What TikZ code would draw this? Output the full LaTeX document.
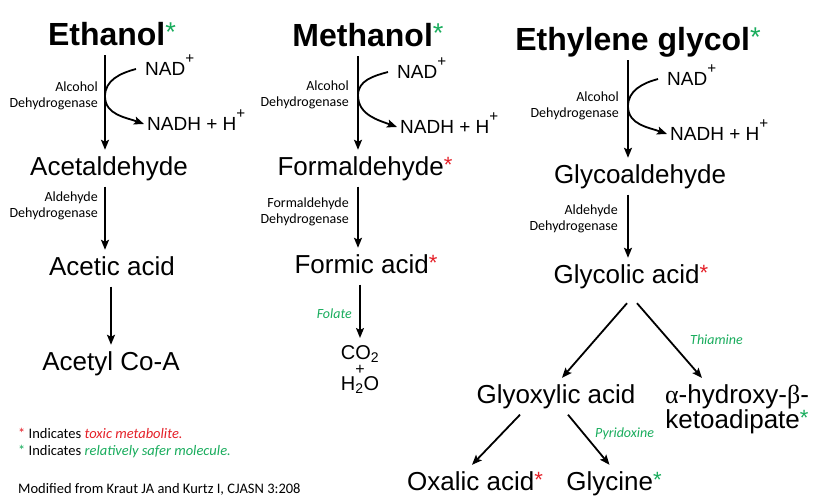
\documentclass[tikz,border=0pt]{standalone}
\usepackage{fontspec}
\setmainfont{Liberation Sans}
\newfontfamily\calfont{Carlito}
\newfontfamily\greekfont{Liberation Serif}
\usetikzlibrary{arrows.meta}
\definecolor{toxred}{RGB}{228,32,40}
\definecolor{safegreen}{RGB}{24,172,92}
\newcommand\starup[1]{\textcolor{#1}{\raisebox{0.1em}{\scalebox{0.85}{*}}}}
\newcommand\redstar{\starup{toxred}}
\newcommand\greenstar{\starup{safegreen}}
\newcommand\plusup{\raisebox{0.58em}{\scalebox{0.8}{+}}}
\tikzset{
  title/.style={font=\fontsize{32}{36}\selectfont\bfseries, text height=24pt, text depth=0pt,
    inner xsep=0pt, inner ysep=10pt, anchor=base},
  chemfont/.style={font=\fontsize{26}{22}\selectfont},
  chem/.style={chemfont, text height=19pt, text depth=5.5pt, inner xsep=2pt, inner ysep=6pt, anchor=base},
  cofac/.style={font=\fontsize{19}{22}\selectfont, inner sep=0pt, anchor=base west},
  enzyme/.style={font=\calfont\fontsize{14}{16}\selectfont, align=right, inner sep=0pt, anchor=north east},
  vitamin/.style={font=\calfont\itshape\fontsize{14}{16}\selectfont, text=safegreen, inner sep=0pt},
  legend/.style={font=\calfont\fontsize{14.5}{16}\selectfont, inner sep=0pt, anchor=base west},
  rxn/.style={line width=1.8pt, -{Stealth[length=10pt,width=8pt,inset=2pt]}},
}
\begin{document}
\begin{tikzpicture}[x=1pt, y=-1pt]
\useasboundingbox (0,0) rectangle (831,498);
\coordinate (colA) at (105,0);
\coordinate (colB) at (358,0);
\coordinate (colC) at (628,0);

% ethanol
\node[title] (ethanol) at (112,45) {Ethanol{\mdseries\greenstar}};
\node[chem] (acetald) at (109,175) {Acetaldehyde};
\node[chem] (acetic) at (112,275) {Acetic acid};
\node[chem] (acetyl) at (111,370) {Acetyl Co-A};
\node[cofac] (nadA) at (145,75) {NAD\plusup};
\node[cofac] (nadhA) at (147,130) {NADH + H\plusup};
\node[enzyme] (adhA) at (98,82) {Alcohol\\Dehydrogenase};
\node[enzyme] (aldhA) at (98,192) {Aldehyde\\Dehydrogenase};
\draw[rxn] (ethanol.south -| colA) -- (acetald.north -| colA);
\draw[rxn] ([xshift=-9pt,yshift=6pt]nadA.base west) to[out=195,in=90] (colA |- adhA.east)
  to[out=-90,in=160] ([xshift=-3pt,yshift=6pt]nadhA.base west);
\draw[rxn] (acetald.south -| colA) -- (acetic.north -| colA);
\draw[rxn] (acetic.south -| acetyl) -- (acetyl.north -| acetyl);

% methanol
\node[title] (methanol) at (368,46) {Methanol{\mdseries\greenstar}};
\node[chem] (formald) at (365,175) {Formaldehyde\redstar};
\node[chem] (formic) at (366,273) {Formic acid\redstar};
\node[font=\fontsize{20}{15.5}\selectfont, align=center, inner sep=0pt, anchor=north] (co2) at (360,345)
  {CO\textsubscript{2}\\\scalebox{0.8}{+}\\H\textsubscript{2}O};
\node[cofac] (nadB) at (397,78) {NAD\plusup};
\node[cofac] (nadhB) at (400,133) {NADH + H\plusup};
\node[enzyme] (adhB) at (349,81) {Alcohol\\Dehydrogenase};
\node[enzyme] (fdhB) at (349,198) {Formaldehyde\\Dehydrogenase};
\node[vitamin, anchor=base east] (folate) at (352,318) {Folate};
\draw[rxn] (methanol.south -| colB) -- (formald.north -| colB);
\draw[rxn] ([xshift=-9pt,yshift=6pt]nadB.base west) to[out=195,in=90] (colB |- adhB.east)
  to[out=-90,in=160] ([xshift=-3pt,yshift=6pt]nadhB.base west);
\draw[rxn] (formald.south -| colB) -- (formic.north -| colB);
\draw[rxn, shorten >=7pt] (formic.south -| co2) -- (co2.north);

% ethylene glycol
\node[title] (glycol) at (638,50) {Ethylene glycol{\mdseries\greenstar}};
\node[chem] (glycoald) at (640,183) {Glycoaldehyde};
\node[chem] (glycolic) at (631,283) {Glycolic acid\redstar};
\node[chem] (glyoxylic) at (556,403) {Glyoxylic acid};
\node[chemfont, align=center, inner sep=6pt, anchor=north] (hydroxy) at (737,378)
  {{\greekfont α}-hydroxy-{\greekfont β}-\\ketoadipate\greenstar};
\node[chem] (oxalic) at (475,490) {Oxalic acid\redstar};
\node[chem] (glycine) at (614,490) {Glycine\greenstar};
\node[cofac] (nadC) at (667,85) {NAD\plusup};
\node[cofac] (nadhC) at (670,140) {NADH + H\plusup};
\node[enzyme] (adhC) at (619,92) {Alcohol\\Dehydrogenase};
\node[enzyme] (aldhC) at (618,205) {Aldehyde\\Dehydrogenase};
\node[vitamin, anchor=base west] (thiamine) at (690,344) {Thiamine};
\node[vitamin, anchor=base west] (pyridox) at (595,437) {Pyridoxine};
\draw[rxn] (glycol.south -| colC) -- (glycoald.north -| colC);
\draw[rxn] ([xshift=-9pt,yshift=6pt]nadC.base west) to[out=195,in=90] (colC |- adhC.east)
  to[out=-90,in=160] ([xshift=-3pt,yshift=6pt]nadhC.base west);
\draw[rxn] (glycoald.south -| colC) -- (glycolic.north -| colC);
\draw[rxn] ([xshift=-4pt,yshift=-8.5pt]glycolic.south) -- ([xshift=6pt]glyoxylic.north);
\draw[rxn] ([xshift=6pt,yshift=-8.5pt]glycolic.south) -- ([xshift=-35pt]hydroxy.north);
\draw[rxn] ([xshift=-36pt]glyoxylic.south) -- ([xshift=-3pt]oxalic.north);
\draw[rxn] ([xshift=12pt]glyoxylic.south) -- ([xshift=-4.5pt]glycine.north);

% legend
\node[legend] (legTox) at (18,438) {\textcolor{toxred}{*} Indicates \textcolor{toxred}{\itshape toxic metabolite.}};
\node[legend] (legSafe) at (18,455) {\textcolor{safegreen}{*} Indicates \textcolor{safegreen}{\itshape relatively safer molecule.}};
\node[legend] (source) at (18,493) {Modified from Kraut JA and Kurtz I, CJASN 3:208};
\end{tikzpicture}
\end{document}
